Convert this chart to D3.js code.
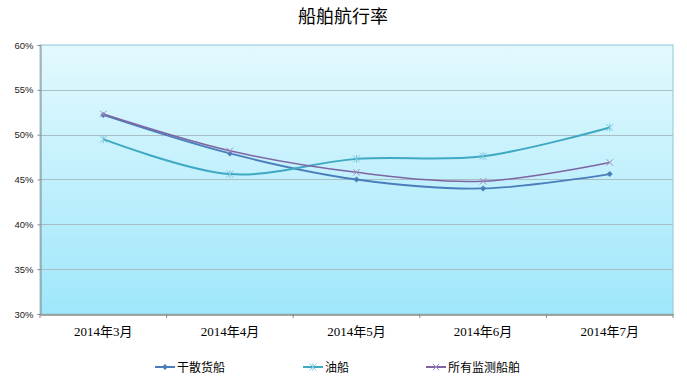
<!DOCTYPE html>
<html><head><meta charset="utf-8">
<script src="https://cdn.jsdelivr.net/npm/d3@7"></script>
<style>body{margin:0;background:#fff}svg{display:block}</style>
</head><body>
<svg id="c" width="687" height="380"></svg>
<script>
const categories = ["2014年3月","2014年4月","2014年5月","2014年6月","2014年7月"];
const dryBulk = [0.522, 0.479, 0.450, 0.440, 0.456];
const tanker = [0.495, 0.456, 0.473, 0.476, 0.508];
const allShips = [0.523, 0.482, 0.458, 0.448, 0.469];
const seriesNames = ["干散货船","油船","所有监测船舶"];
const yTicks = [0.30,0.35,0.40,0.45,0.50,0.55,0.60];
const title = "船舶航行率";

const svg = d3.select("#c");
const m = {l:40, r:673, t:45, b:314};
const x = d3.scaleBand().domain(categories).range([m.l, m.r]);
const y = d3.scaleLinear().domain([0.30,0.60]).range([m.b, m.t]);

const defs = svg.append("defs");
const g = defs.append("linearGradient").attr("id","bg").attr("x1",0).attr("y1",0).attr("x2",0).attr("y2",1);
g.append("stop").attr("offset","0%").attr("stop-color","#e3f9fe");
g.append("stop").attr("offset","100%").attr("stop-color","#9fe7fb");

svg.append("text").attr("x",343).attr("y",23).attr("text-anchor","middle")
  .attr("font-family","'Noto Sans CJK SC',sans-serif").attr("font-size",18).attr("fill","#000").text(title);

svg.append("rect").attr("x",m.l).attr("y",m.t).attr("width",m.r-m.l).attr("height",m.b-m.t)
  .attr("fill","url(#bg)").attr("stroke","#8ec6d8").attr("stroke-width",1);

// gridlines
svg.append("g").selectAll("line").data(yTicks.slice(1,-1)).join("line")
  .attr("x1",m.l).attr("x2",m.r).attr("y1",d=>Math.round(y(d))+0.5).attr("y2",d=>Math.round(y(d))+0.5)
  .attr("stroke","#a9bec4").attr("stroke-width",1.2);

// y axis
const ya = svg.append("g").attr("transform",`translate(${m.l+0.5},0)`)
  .call(d3.axisLeft(y).tickValues(yTicks).tickFormat(d3.format(".0%")).tickSize(3));
ya.select(".domain").attr("stroke","#8a8a8a");
ya.selectAll(".tick line").attr("stroke","#8a8a8a");
ya.selectAll("text").attr("font-family","'Liberation Sans Narrow','Liberation Sans',sans-serif").attr("font-size",9.5).attr("fill","#222").attr("dx",-1);

// x axis
const xa = svg.append("g").attr("transform",`translate(0,${m.b+0.5})`)
  .call(d3.axisBottom(x).tickSize(0).tickPadding(12));
xa.select(".domain").attr("stroke","#8a8a8a").attr("stroke-width",1.3);
xa.selectAll("text").attr("font-family","'Liberation Serif','Noto Sans CJK SC',serif").attr("font-size",13).attr("fill","#000");
const step = x.step();
svg.append("g").selectAll("line").data(d3.range(categories.length+1)).join("line")
  .attr("x1",i=>m.l+i*step).attr("x2",i=>m.l+i*step).attr("y1",m.b).attr("y2",m.b+4)
  .attr("stroke","#8a8a8a");

const cx = c => x(c)+x.bandwidth()/2;
const series = [
  {name:seriesNames[0], vals:dryBulk, color:"#4a7ebb", marker:"diamond", w:1.8},
  {name:seriesNames[1], vals:tanker, color:"#3fa8c3", marker:"star", w:2},
  {name:seriesNames[2], vals:allShips, color:"#7e64a2", marker:"x", w:1.5}
];
const line = d3.line().x((d,i)=>cx(categories[i])).y(d=>y(d)).curve(d3.curveCatmullRom.alpha(0.5));

function drawMarker(sel, type, px, py, color){
  if(type==="diamond"){
    sel.append("path").attr("d",`M${px},${py-3}L${px+3},${py}L${px},${py+3}L${px-3},${py}Z`).attr("fill",color);
  } else if(type==="star"){
    const s=3.5;
    sel.append("path").attr("d",`M${px-s},${py-s}L${px+s},${py+s}M${px-s},${py+s}L${px+s},${py-s}M${px},${py-s-0.5}L${px},${py+s+0.5}`)
      .attr("stroke","#7cc8dc").attr("stroke-width",1);
  } else {
    const s=3.2;
    sel.append("path").attr("d",`M${px-s},${py-s}L${px+s},${py+s}M${px-s},${py+s}L${px+s},${py-s}`)
      .attr("stroke","#a48cc0").attr("stroke-width",1);
  }
}

series.forEach(s=>{
  const gg = svg.append("g");
  gg.append("path").attr("d",line(s.vals)).attr("fill","none").attr("stroke",s.color).attr("stroke-width",s.w);
  s.vals.forEach((v,i)=>drawMarker(gg, s.marker, cx(categories[i]), y(v), s.color));
});

// legend
const legX = [155, 303, 426];
series.forEach((s,i)=>{
  const lg = svg.append("g");
  const ly = 367;
  lg.append("line").attr("x1",legX[i]).attr("x2",legX[i]+20).attr("y1",ly).attr("y2",ly).attr("stroke",s.color).attr("stroke-width",2);
  drawMarker(lg, s.marker, legX[i]+10, ly, s.color);
  lg.append("text").attr("x",legX[i]+22).attr("y",ly+4.5).attr("font-family","'Noto Sans CJK SC',sans-serif")
    .attr("font-size",12).attr("fill","#000").text(s.name);
});
</script>
</body></html>
